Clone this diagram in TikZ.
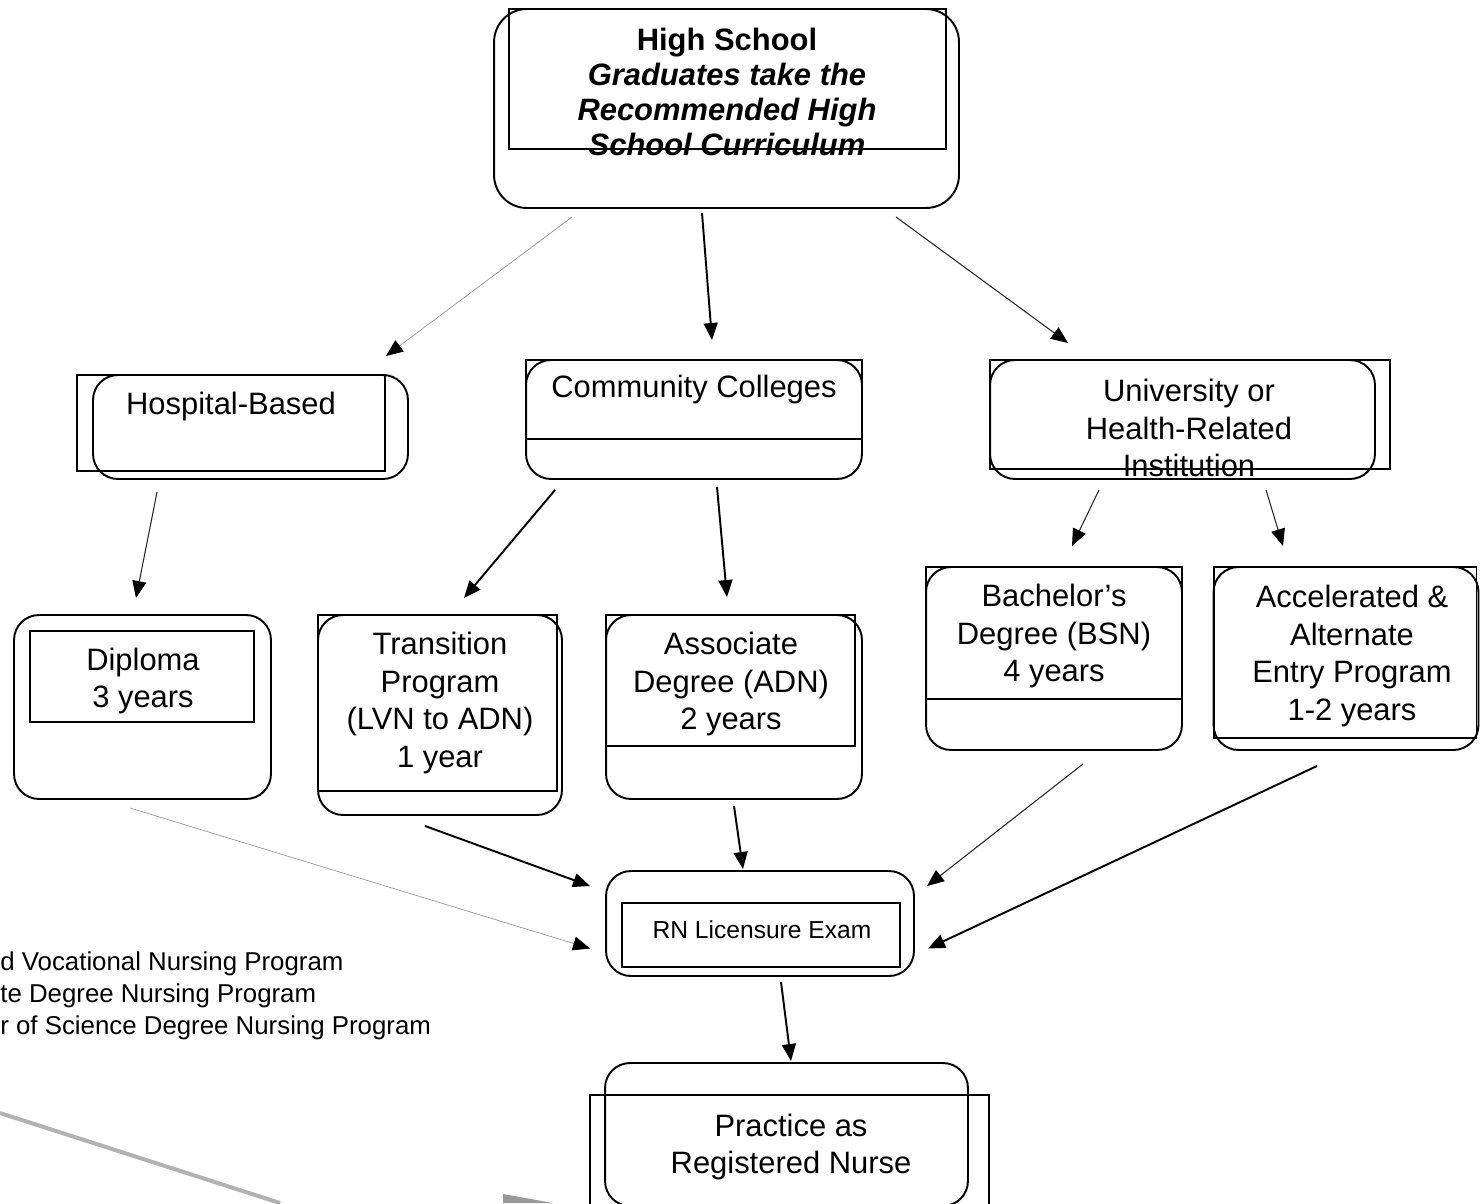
\documentclass[tikz,border=0pt]{standalone}
\usepackage{fontspec}
\setmainfont{Liberation Sans}
\usetikzlibrary{arrows.meta,calc}
\tikzstyle{rbox} = [rectangle, draw, rounded corners=0.5cm, line width=1.1pt,
    inner sep=0pt, outer sep=0pt]
\tikzstyle{sbox} = [rectangle, draw, line width=1.1pt, inner sep=0pt, outer sep=0pt]
\tikzstyle{lbl} = [align=center, inner sep=0pt, font=\fontsize{17.6}{21.5}\selectfont]
\tikzstyle{arr} = [->, line width=1.1pt]
\tikzstyle{thinarr} = [->, line width=0.6pt, black!85]
\tikzstyle{faintarr} = [->, line width=0.4pt, black!40]

\begin{document}
\begin{tikzpicture}[x=0.02cm, y=-0.02cm,
                    >={Triangle[length=0.34cm,width=0.28cm,color=black]}]
  \useasboundingbox (0,0) rectangle (1480,1203);

  % high school
  \node[rbox, rounded corners=0.66cm, minimum width=9.3cm, minimum height=3.98cm] (hs) at (726.5,108.5) {};
  \node[sbox, minimum width=8.74cm, minimum height=2.8cm] (hsr) at (727.5,79) {};
  \node[lbl, font=\fontsize{17.6}{19.8}\selectfont\bfseries] (hstxt) at (727,92)
    {High School\\ \textit{Graduates take the}\\ \textit{Recommended High}\\ \textit{School Curriculum}};

  % second row
  \node[sbox, minimum width=6.16cm, minimum height=1.92cm] (hospr) at (231,423) {};
  \node[rbox, minimum width=6.3cm, minimum height=2.08cm] (hosp) at (250.5,427) {};
  \node[lbl] (hosptxt) at (231,407) {Hospital-Based};

  \node[rbox, minimum width=6.72cm, minimum height=2.38cm] (cc) at (694,419.5) {};
  \node[sbox, minimum width=6.72cm, minimum height=1.58cm] (ccr) at (694,399.5) {};
  \node[lbl] (cctxt) at (694,390) {Community Colleges};

  \node[rbox, minimum width=7.7cm, minimum height=2.38cm] (univ) at (1182.5,419.5) {};
  \node[sbox, minimum width=8.0cm, minimum height=2.18cm] (univr) at (1190,414.5) {};
  \node[lbl] (univtxt) at (1189,428) {University or\\ Health-Related\\ Institution};

  % third row
  \node[rbox, minimum width=5.14cm, minimum height=3.68cm] (dipl) at (142.5,707) {};
  \node[sbox, minimum width=4.48cm, minimum height=1.82cm] (diplr) at (142,676.5) {};
  \node[lbl] (dipltxt) at (143,681) {Diploma\\ 3 years};

  \node[rbox, minimum width=4.88cm, minimum height=4.0cm] (trans) at (440,715) {};
  \node[sbox, minimum width=4.78cm, minimum height=3.52cm] (transr) at (437.5,703) {};
  \node[lbl] (transtxt) at (440,703) {Transition\\ Program\\ (LVN to ADN)\\ 1 year};

  \node[rbox, minimum width=5.12cm, minimum height=3.68cm] (assoc) at (734,707) {};
  \node[sbox, minimum width=4.98cm, minimum height=2.62cm] (assocr) at (730.5,680.5) {};
  \node[lbl] (assoctxt) at (731,684) {Associate\\ Degree (ADN)\\ 2 years};

  \node[rbox, minimum width=5.12cm, minimum height=3.66cm] (bach) at (1054,658.5) {};
  \node[sbox, minimum width=5.12cm, minimum height=2.64cm] (bachr) at (1054,633) {};
  \node[lbl] (bachtxt) at (1054,636) {Bachelor's\\ Degree (BSN)\\ 4 years};

  \node[rbox, minimum width=5.3cm, minimum height=3.66cm] (accel) at (1346,658.5) {};
  \node[sbox, minimum width=5.26cm, minimum height=3.42cm] (accelr) at (1345,652.5) {};
  \node[lbl] (acceltxt) at (1352,656) {Accelerated \&\\ Alternate\\ Entry Program\\ 1-2 years};

  % exam and practice
  \node[rbox, minimum width=6.16cm, minimum height=2.1cm] (rn) at (760,923.5) {};
  \node[sbox, minimum width=5.56cm, minimum height=1.28cm] (rnr) at (761,935) {};
  \node[lbl, font=\fontsize{14}{17}\selectfont] (rntxt) at (762,930) {RN Licensure Exam};

  \node[rbox, minimum width=7.26cm, minimum height=2.86cm] (prac) at (786.5,1134.5) {};
  \node[sbox, minimum width=7.98cm, minimum height=2.34cm] (pracr) at (789.5,1153.5) {};
  \node[lbl] (practxt) at (791,1147) {Practice as\\ Registered Nurse};

  % legend, cut at the left edge
  \node[lbl, anchor=west, align=left, font=\fontsize{14.7}{18.1}\selectfont] (legend) at (0,996)
    {d Vocational Nursing Program\\ te Degree Nursing Program\\ r of Science Degree Nursing Program};

  % grey marks at the bottom
  \draw[black!30, line width=0.08cm] (0,1113) -- (280,1203);
  \fill[black!40] (503,1194) -- (553,1203) -- (503,1203) -- cycle;

  % connectors
  \draw[faintarr] ($(hs.south west)+(78,9)$) -- ($(hospr.north east)+(1,-19)$);
  \draw[arr] ($(hs.south)+(-24.5,5)$) -- ($(cc.north)+(18,-20)$);
  \draw[thinarr] ($(hs.south east)+(-63,9)$) -- ($(univ.north west)+(78,-17)$);

  \draw[thinarr] ($(hosp.south west)+(64,13)$) -- ($(dipl.north)+(-6.5,-17)$);
  \draw[arr] ($(cc.south west)+(29,11)$) -- ($(trans.north)+(24,-17)$);
  \draw[arr] ($(cc.south)+(23,8)$) -- ($(assoc.north)+(-7,-18)$);
  \draw[thinarr] ($(univ.south)+(-83.5,11)$) -- ($(bach.north)+(18,-21)$);
  \draw[thinarr] ($(univ.south)+(83.5,11)$) -- ($(accel.north)+(-63,-21)$);

  \draw[faintarr] ($(dipl.south)+(-12.5,9)$) -- ($(rn.west)+(-16,25)$);
  \draw[arr] ($(trans.south)+(-15,11)$) -- ($(rn.north west)+(-16,15)$);
  \draw[arr] ($(assoc.south)+(0,7)$) -- ($(rn.north)+(-17,-2)$);
  \draw[thinarr] ($(bach.south)+(29,14)$) -- ($(rn.north east)+(13,15)$);
  \draw[arr] ($(accel.south)+(-29,16)$) -- ($(rn.east)+(14,25)$);
  \draw[arr] ($(rn.south)+(21,6)$) -- ($(prac.north)+(4.5,-2)$);
\end{tikzpicture}
\end{document}
